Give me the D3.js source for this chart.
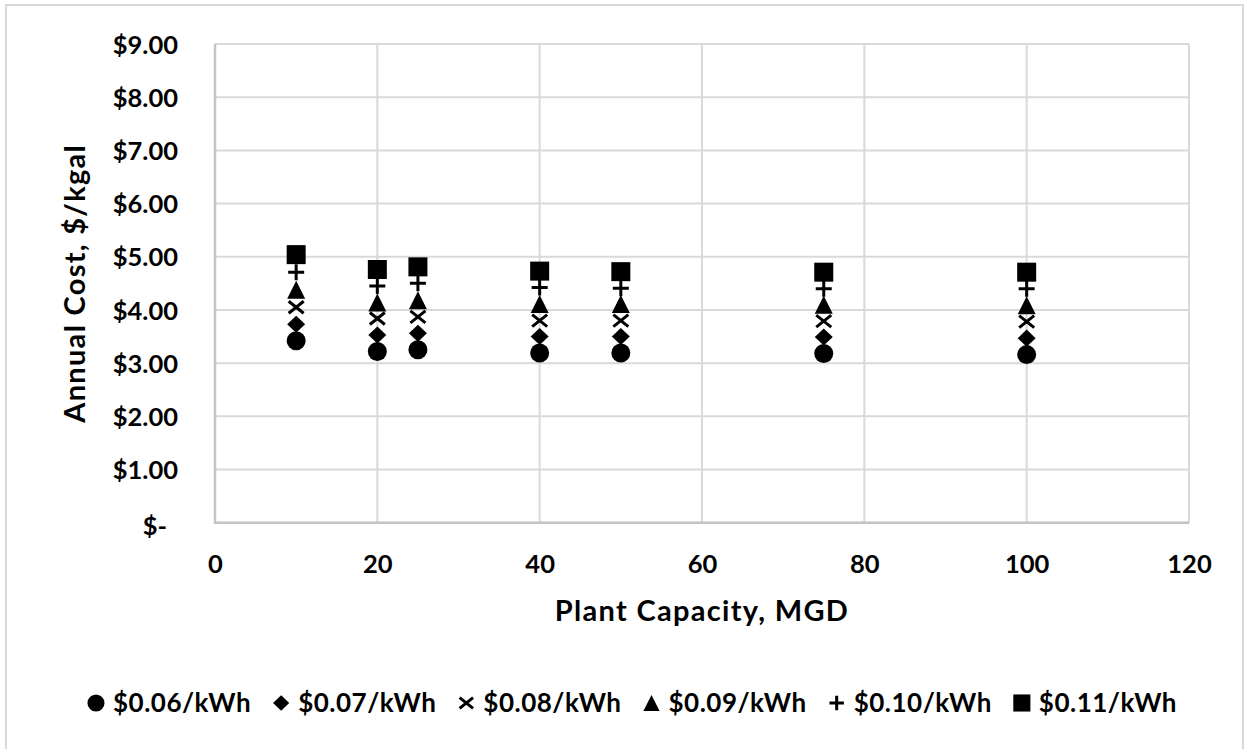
<!DOCTYPE html>
<html>
<head>
<meta charset="utf-8">
<script src="https://cdn.jsdelivr.net/npm/d3@7"></script>
<style>
  html, body { margin: 0; padding: 0; background: #fff; }
  svg text { font-family: Lato, "Open Sans", sans-serif; font-weight: 700; fill: #000; }
</style>
</head>
<body>
<svg id="chart" width="1249" height="749"></svg>
<script>
// Plant capacity (MGD) for each sample plant
const capacities = [10, 20, 25, 40, 50, 75, 100];

// Electricity price scenarios
const seriesNames = ["$0.06/kWh", "$0.07/kWh", "$0.08/kWh", "$0.09/kWh", "$0.10/kWh", "$0.11/kWh"];
const seriesShapes = ["circle", "diamond", "x", "triangle", "plus", "square"];

// Annual cost, $/kgal, one array per electricity price
const cost006 = [3.42, 3.22, 3.25, 3.19, 3.19, 3.18, 3.16];
const cost007 = [3.73, 3.53, 3.56, 3.50, 3.50, 3.49, 3.47];
const cost008 = [4.05, 3.84, 3.87, 3.80, 3.80, 3.79, 3.78];
const cost009 = [4.38, 4.14, 4.18, 4.11, 4.11, 4.10, 4.09];
const cost010 = [4.71, 4.45, 4.50, 4.42, 4.41, 4.40, 4.40];
const cost011 = [5.04, 4.76, 4.81, 4.73, 4.72, 4.71, 4.71];
const seriesValues = [cost006, cost007, cost008, cost009, cost010, cost011];

// Axis ticks
const xTicks = [0, 20, 40, 60, 80, 100, 120];
const yTicks = [0, 1, 2, 3, 4, 5, 6, 7, 8, 9];
const yTickLabels = ["$-", "$1.00", "$2.00", "$3.00", "$4.00", "$5.00", "$6.00", "$7.00", "$8.00", "$9.00"];

const xTitle = "Plant Capacity, MGD";
const yTitle = "Annual Cost, $/kgal";

const svg = d3.select("#chart");
const gridColor = "#d9d9d9";

// Outer chart frame
svg.append("rect")
  .attr("x", 6).attr("y", 5)
  .attr("width", 1237).attr("height", 770)
  .attr("fill", "none").attr("stroke", gridColor).attr("stroke-width", 2);

const plot = { left: 215, right: 1189, top: 44, bottom: 522.7 };
const x = d3.scaleLinear().domain([0, 120]).range([plot.left, plot.right]);
const y = d3.scaleLinear().domain([0, 9]).range([plot.bottom, plot.top]);

// Gridlines
const grid = svg.append("g");
grid.selectAll("line.h").data(yTicks).join("line")
  .attr("x1", plot.left).attr("x2", plot.right)
  .attr("y1", d => y(d)).attr("y2", d => y(d))
  .attr("stroke", gridColor).attr("stroke-width", 2);
grid.selectAll("line.v").data(xTicks).join("line")
  .attr("y1", plot.top).attr("y2", plot.bottom)
  .attr("x1", d => x(d)).attr("x2", d => x(d))
  .attr("stroke", gridColor).attr("stroke-width", 2);
// Axis lines
svg.append("line").attr("x1", plot.left).attr("x2", plot.left)
  .attr("y1", plot.top).attr("y2", plot.bottom + 1)
  .attr("stroke", "#c4c4c4").attr("stroke-width", 2.5);
svg.append("line").attr("x1", plot.left).attr("x2", plot.right)
  .attr("y1", plot.bottom).attr("y2", plot.bottom)
  .attr("stroke", "#c4c4c4").attr("stroke-width", 2.5);

// Axes via d3 axis generators, lines hidden (gridlines drawn above)
const fs = 25.5;
const xAxis = svg.append("g")
  .attr("transform", `translate(0,${plot.bottom})`)
  .call(d3.axisBottom(x).tickValues(xTicks).tickSize(0).tickPadding(0).tickFormat(d3.format("d")));
xAxis.select(".domain").remove();
xAxis.selectAll("text")
  .attr("y", 50).attr("dy", null)
  .style("font-size", fs + "px").style("font-family", "Lato").style("font-weight", 700);

const yAxis = svg.append("g")
  .attr("transform", `translate(178,0)`)
  .call(d3.axisLeft(y).tickValues(yTicks).tickSize(0).tickPadding(0).tickFormat(d => yTickLabels[d]));
yAxis.select(".domain").remove();
yAxis.selectAll("text")
  .attr("x", d => d === 0 ? -11 : 0)
  .attr("dy", "0.36em")
  .attr("text-anchor", "end")
  .style("font-size", fs + "px").style("font-family", "Lato").style("font-weight", 700);
yAxis.selectAll(".tick").filter(d => d === 0).attr("transform", `translate(0,${y(0) + 3})`);

// Axis titles
svg.append("text")
  .attr("x", 702).attr("y", 621)
  .attr("text-anchor", "middle")
  .style("font-size", "29px")
  .style("letter-spacing", "1.3px")
  .text(xTitle);
svg.append("text")
  .attr("transform", `translate(85,${(plot.top + plot.bottom) / 2}) rotate(-90)`)
  .attr("text-anchor", "middle")
  .style("font-size", "29px")
  .style("letter-spacing", "1.3px")
  .text(yTitle);

// Marker path generators, size = nominal width in px
function markerPath(shape, s) {
  const h = s / 2;
  switch (shape) {
    case "circle":
      return d3.symbol(d3.symbolCircle, Math.PI * h * h)();
    case "square":
      return `M${-h},${-h}H${h}V${h}H${-h}Z`;
    case "diamond":
      return `M0,${-h * 0.95}L${h},0L0,${h * 0.95}L${-h},0Z`;
    case "triangle":
      return `M0,${-h}L${h},${h}L${-h},${h}Z`;
    case "x":
      return `M${-h},${-h * 0.8}L${h},${h * 0.8}M${h},${-h * 0.8}L${-h},${h * 0.8}`;
    case "plus":
      return `M${-h},0H${h}M0,${-h}V${h}`;
  }
}
const markerSize = { circle: 19, square: 19, diamond: 18, triangle: 18, x: 15, plus: 16 };
function styleMarker(sel, shape) {
  if (shape === "x" || shape === "plus") {
    sel.attr("fill", "none").attr("stroke", "#000").attr("stroke-width", 3);
  } else {
    sel.attr("fill", "#000").attr("stroke", "none");
  }
}

// Scatter series
seriesValues.forEach((vals, i) => {
  const shape = seriesShapes[i];
  const pts = capacities.map((c, j) => ({ c, v: vals[j] }));
  svg.append("g").selectAll("path").data(pts).join("path")
    .attr("d", markerPath(shape, markerSize[shape]))
    .attr("transform", d => `translate(${x(d.c)},${y(d.v)})`)
    .call(styleMarker, shape);
});

// Legend, laid out left to right and centred under the chart
const legend = svg.append("g");
const legendY = 703;
let cursor = 0;
seriesNames.forEach((name, i) => {
  const shape = seriesShapes[i];
  const g = legend.append("g");
  const mx = cursor + 9;
  g.append("path")
    .attr("d", markerPath(shape, markerSize[shape] * 0.9))
    .attr("transform", `translate(${mx},${legendY})`)
    .call(styleMarker, shape);
  const t = g.append("text")
    .attr("x", mx + 17).attr("y", legendY).attr("dy", "0.36em")
    .style("font-size", "26px")
    .style("letter-spacing", "0.5px")
    .text(name);
  const w = t.node().getComputedTextLength();
  cursor = mx + 17 + w + 21;
});
const legendWidth = cursor - 21;
legend.attr("transform", `translate(${632 - legendWidth / 2},0)`);
</script>
</body>
</html>
